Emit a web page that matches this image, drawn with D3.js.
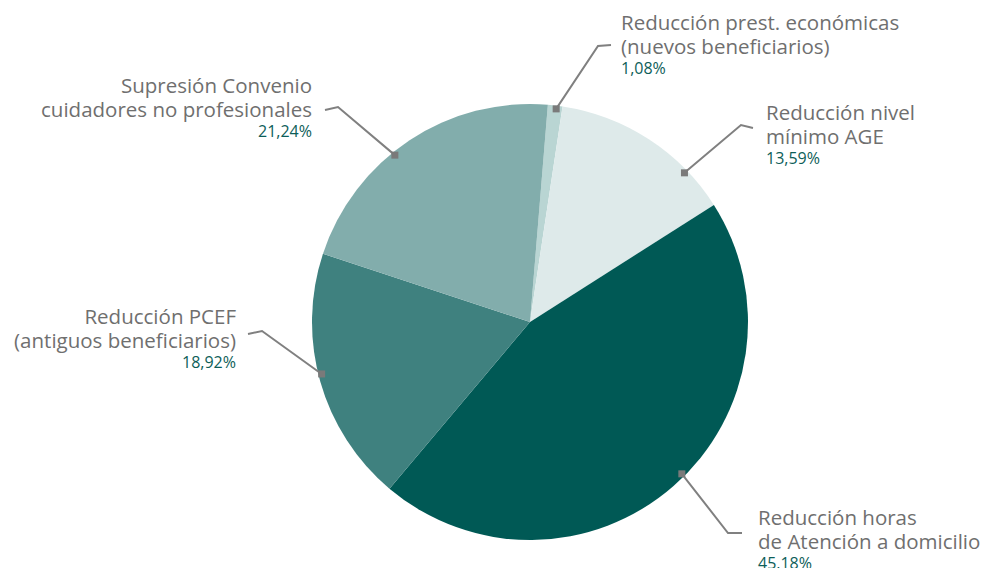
<!DOCTYPE html>
<html>
<head>
<meta charset="utf-8">
<script src="https://cdn.jsdelivr.net/npm/d3@7"></script>
<style>
  body { margin: 0; background: #fff; }
  svg text { font-family: "Open Sans", "Noto Sans", sans-serif; }
</style>
</head>
<body>
<div id="chart"></div>
<script>
// Datos del gráfico (orden horario desde arriba)
const labels = [
  ["Reducción prest. económicas", "(nuevos beneficiarios)"],
  ["Reducción nivel", "mínimo AGE"],
  ["Reducción horas", "de Atención a domicilio"],
  ["Reducción PCEF", "(antiguos beneficiarios)"],
  ["Supresión Convenio", "cuidadores no profesionales"]
];
const values = [1.08, 13.59, 45.18, 18.92, 21.24];
const valueLabels = ["1,08%", "13,59%", "45,18%", "18,92%", "21,24%"];
const colors = ["#b9d5d3", "#deeaea", "#005955", "#3f817f", "#82adac"];

// Disposición de etiquetas (ángulo del marcador en grados, codo y texto)
const layout = [
  { ang: 7,   elbow: [598, 46],  end: [611, 45],  tx: 621, ty: 30,  anchor: "start" },
  { ang: 46,  elbow: [741, 125], end: [753, 128], tx: 766, ty: 120, anchor: "start" },
  { ang: 135, elbow: [728, 533], end: [742, 533], tx: 758, ty: 525, anchor: "start" },
  { ang: 256, elbow: [262, 331], end: [248, 334], tx: 236, ty: 324, anchor: "end" },
  { ang: 321, elbow: [338, 107], end: [325, 110], tx: 312, ty: 93,  anchor: "end" }
];

const W = 988, H = 568;
const cx = 530, cy = 322, R = 218;
const startOffset = 4.7 * Math.PI / 180;

const svg = d3.select("#chart").append("svg")
  .attr("width", W)
  .attr("height", H);

const g = svg.append("g").attr("transform", `translate(${cx},${cy})`);

const pie = d3.pie()
  .sort(null)
  .value(d => d)
  .startAngle(startOffset)
  .endAngle(startOffset + 2 * Math.PI);

const arc = d3.arc().innerRadius(0).outerRadius(R);

g.selectAll("path.slice")
  .data(pie(values))
  .enter().append("path")
  .attr("class", "slice")
  .attr("d", arc)
  .attr("fill", (d, i) => colors[i]);

// Líneas guía + etiquetas
const markerR = R * 0.985;
layout.forEach((L, i) => {
  const a = L.ang * Math.PI / 180;
  const mx = cx + markerR * Math.sin(a);
  const my = cy - markerR * Math.cos(a);
  svg.append("polyline")
    .attr("points", [[mx, my], L.elbow, L.end].map(p => p.join(",")).join(" "))
    .attr("fill", "none")
    .attr("stroke", "#808080")
    .attr("stroke-width", 2);
  svg.append("rect")
    .attr("x", mx - 3.5)
    .attr("y", my - 3.5)
    .attr("width", 7)
    .attr("height", 7)
    .attr("fill", "#7a7a7a");

  labels[i].forEach((line, j) => {
    svg.append("text")
      .attr("x", L.tx)
      .attr("y", L.ty + j * 24)
      .attr("text-anchor", L.anchor)
      .style("font-size", "20.5px")
      .style("fill", "#6f6f6f")
      .text(line);
  });
  svg.append("text")
    .attr("x", L.tx)
    .attr("y", L.ty + 44)
    .attr("text-anchor", L.anchor)
    .style("font-size", "16px")
    .style("fill", "#0d5e59")
    .text(valueLabels[i]);
});
</script>
</body>
</html>
